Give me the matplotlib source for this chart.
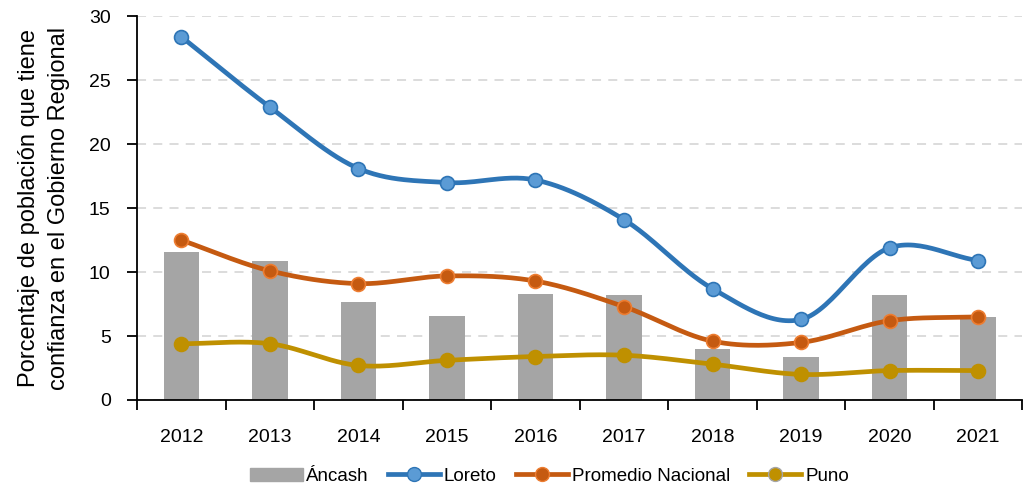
import numpy as np
import matplotlib.pyplot as plt
from matplotlib.patches import Patch
from matplotlib.lines import Line2D

years = ['2012', '2013', '2014', '2015', '2016', '2017', '2018', '2019', '2020', '2021']
ancash = [11.6, 10.9, 7.7, 6.6, 8.3, 8.2, 4.0, 3.4, 8.2, 6.5]
loreto = [28.4, 22.9, 18.1, 17.0, 17.2, 14.1, 8.7, 6.3, 11.9, 10.9]
promedio = [12.5, 10.1, 9.1, 9.7, 9.3, 7.3, 4.6, 4.5, 6.2, 6.5]
puno = [4.4, 4.4, 2.7, 3.1, 3.4, 3.5, 2.8, 2.0, 2.3, 2.3]

plt.rcParams['font.family'] = ['Liberation Sans', 'DejaVu Sans']


def smooth(y, n=30):
    # catmull-rom, like the smoothed lines of a spreadsheet
    y = np.asarray(y, dtype=float)
    x = np.arange(len(y), dtype=float)
    px = np.concatenate([[2 * x[0] - x[1]], x, [2 * x[-1] - x[-2]]])
    py = np.concatenate([[2 * y[0] - y[1]], y, [2 * y[-1] - y[-2]]])
    xs, ys = [], []
    t = np.linspace(0, 1, n)
    for i in range(1, len(px) - 2):
        for p, out in ((px, xs), (py, ys)):
            p0, p1, p2, p3 = p[i - 1], p[i], p[i + 1], p[i + 2]
            out.extend(0.5 * (2 * p1 + (-p0 + p2) * t
                              + (2 * p0 - 5 * p1 + 4 * p2 - p3) * t ** 2
                              + (-p0 + 3 * p1 - 3 * p2 + p3) * t ** 3))
    return np.array(xs), np.array(ys)


fig = plt.figure(figsize=(10.27, 4.90), dpi=100)
ax = fig.add_axes([0.1335, 0.1837, 0.862, 0.783])

x = np.arange(len(years))
ax.bar(x, ancash, width=0.4, color='#A5A5A5', zorder=2)

series = [
    (loreto, '#2E75B6', '#5B9BD5', '#2E75B6'),
    (promedio, '#C55A11', '#C55A11', '#ED7D31'),
    (puno, '#BF9000', '#BF9000', '#BF9000'),
]
for vals, lc, mf, me in series:
    sx, sy = smooth(vals)
    ax.plot(sx, sy, color=lc, lw=3.4, zorder=3, solid_capstyle='round')
    ax.plot(x, vals, 'o', ms=10, mfc=mf, mec=me, mew=1.2, zorder=4)

ax.set_xlim(-0.5, 9.45)
ax.set_ylim(0, 30)
ax.set_yticks(range(0, 31, 5))
ax.set_xticks(x)
ax.set_xticklabels(years)
ax.set_xticks(np.arange(-0.5, 10, 1), minor=True)
ax.tick_params(axis='x', which='major', length=0, labelsize=14, pad=21)
ax.tick_params(axis='x', which='minor', length=7, width=1.3)
ax.tick_params(axis='y', labelsize=14, length=7, width=1.3, pad=12)
ax.grid(axis='y', linestyle=(0, (5, 4)), color='#D9D9D9', lw=1.3, zorder=0)
for s in ['top', 'right']:
    ax.spines[s].set_visible(False)
ax.spines['left'].set_linewidth(1.3)
ax.spines['bottom'].set_linewidth(1.3)

ax.set_ylabel('Porcentaje de población que tiene\nconfianza en el Gobierno Regional',
              fontsize=17, labelpad=14, linespacing=1.45)

handles = [
    Patch(color='#A5A5A5'),
    Line2D([], [], color='#2E75B6', lw=3.4, marker='o', ms=10, mfc='#5B9BD5', mec='#2E75B6'),
    Line2D([], [], color='#C55A11', lw=3.4, marker='o', ms=10, mfc='#C55A11', mec='#ED7D31'),
    Line2D([], [], color='#BF9000', lw=3.4, marker='o', ms=10, mfc='#BF9000', mec='#A5A5A5'),
]
fig.legend(handles, ['Áncash', 'Loreto', 'Promedio Nacional', 'Puno'],
           loc='center', bbox_to_anchor=(0.535, 0.028), ncol=4, frameon=False,
           fontsize=13.5, handlelength=2.8, handletextpad=0.2, columnspacing=1.0)

plt.savefig('out.png', dpi=100)
